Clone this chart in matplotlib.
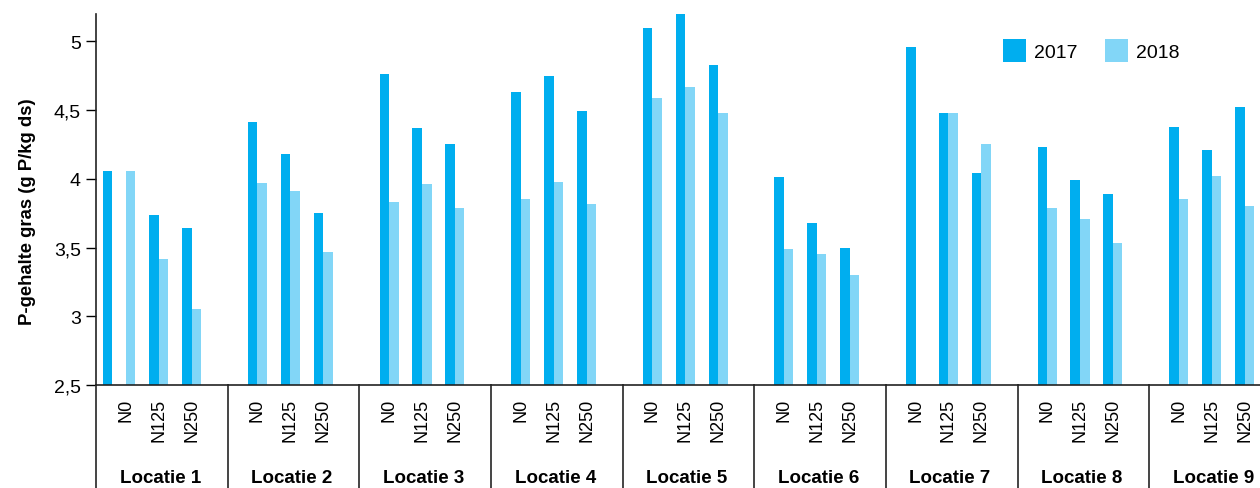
import numpy as np
import matplotlib.pyplot as plt
import matplotlib.transforms as mtransforms

plt.rcParams['font.family'] = ['Liberation Sans', 'DejaVu Sans']

# data
locations = ['Locatie 1', 'Locatie 2', 'Locatie 3', 'Locatie 4', 'Locatie 5',
             'Locatie 6', 'Locatie 7', 'Locatie 8', 'Locatie 9']
treatments = ['N0', 'N125', 'N250']
years = ['2017', '2018']

# P-gehalte per locatie (N0, N125, N250)
p_2017 = [4.06, 3.74, 3.64,
          4.41, 4.18, 3.75,
          4.76, 4.37, 4.25,
          4.63, 4.75, 4.49,
          5.10, 5.21, 4.83,
          4.01, 3.68, 3.50,
          4.96, 4.48, 4.04,
          4.23, 3.99, 3.89,
          4.38, 4.21, 4.52]
p_2018 = [4.06, 3.42, 3.05,
          3.97, 3.91, 3.47,
          3.83, 3.96, 3.79,
          3.85, 3.98, 3.82,
          4.59, 4.67, 4.48,
          3.49, 3.45, 3.30,
          np.nan, 4.48, 4.25,
          3.79, 3.71, 3.53,
          3.85, 4.02, 3.80]

c2017 = '#00aeef'
c2018 = '#82d6f7'

fig = plt.figure(figsize=(12.6, 4.89), dpi=100)
ax = fig.add_axes([0.0764, 0.2106, 1 - 0.0764, 0.7592])

slots = 4          # slots per location
bw = 0.29          # bar width
n_loc = len(locations)
pos = np.array([i * slots + 0.9 + k for i in range(n_loc) for k in range(len(treatments))])

# the first 2017 bar sits a bit left of its pair in the original
shift_2017 = np.zeros(len(pos))
shift_2017[0] = -0.42

ax.bar(pos - bw / 2 + shift_2017, p_2017, width=bw, color=c2017, label=years[0])
ax.bar(pos + bw / 2, p_2018, width=bw, color=c2018, label=years[1])

ax.set_ylim(2.5, 5.2)
ax.set_xlim(0, 35.37)
yt = [2.5, 3, 3.5, 4, 4.5, 5]
ax.set_yticks(yt)
ax.set_yticklabels([('%g' % v).replace('.', ',') for v in yt], fontsize=14)
ax.tick_params(axis='y', direction='out', length=7, width=1, pad=4)

ax.set_xticks(pos)
ax.set_xticklabels(treatments * n_loc, rotation=90, fontsize=13)
ax.tick_params(axis='x', length=0, pad=9)

for s in ['top', 'right']:
    ax.spines[s].set_visible(False)
for s in ['left', 'bottom']:
    ax.spines[s].set_linewidth(1.2)
    ax.spines[s].set_color('#222222')

ax.set_ylabel('P-gehalte gras (g P/kg ds)', fontsize=13.3, fontweight='bold')
ax.yaxis.set_label_coords(-0.052, 0.47)

# separators and location labels below the axis
trans = mtransforms.blended_transform_factory(ax.transData, ax.transAxes)
for i in range(n_loc):
    ax.plot([i * slots, i * slots], [0, -0.3], transform=trans, color='#444444',
            lw=1.4, clip_on=False)
    ax.text(i * slots + 1.95, -0.248, locations[i], transform=trans, ha='center', va='center',
            fontsize=13.5, fontweight='bold')

leg = ax.legend(loc='upper left', bbox_to_anchor=(0.796, 0.918), bbox_transform=fig.transFigure,
                ncol=2, frameon=False, fontsize=14, handlelength=1.18, handleheight=1.44,
                handletextpad=0.4, columnspacing=1.45, borderpad=0, borderaxespad=0)

fig.savefig('out.png', dpi=100)
